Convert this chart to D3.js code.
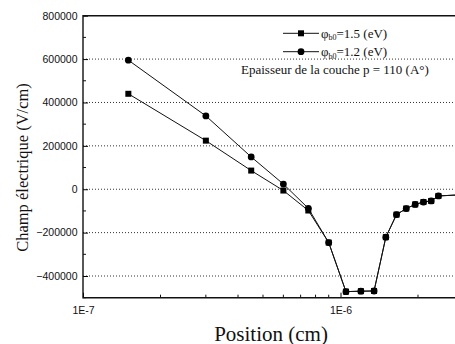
<!DOCTYPE html>
<html>
<head>
<meta charset="utf-8">
<script src="https://cdn.jsdelivr.net/npm/d3@7"></script>
<style>
  html, body { margin: 0; padding: 0; background: #fff; }
  svg { display: block; }
  .serif { font-family: "Liberation Serif", "Times New Roman", Times, "DejaVu Serif", serif; }
  .sans { font-family: "Liberation Sans", Arial, Helvetica, "DejaVu Sans", sans-serif; }
</style>
</head>
<body>
<svg id="chart" width="455" height="344"></svg>
<script>
// Position (cm) of each computed point
const positions = [1.5e-7, 3e-7, 4.5e-7, 6e-7, 7.5e-7, 9e-7, 1.05e-6, 1.2e-6, 1.35e-6,
  1.5e-6, 1.65e-6, 1.8e-6, 1.95e-6, 2.1e-6, 2.25e-6, 2.4e-6, 3e-6];
// Electric field (V/cm), barrier height 1.5 eV
const fieldPhi15 = [440000, 224000, 86000, -6000, -98000, -246000, -472000, -470000, -469000,
  -221000, -117000, -89000, -70000, -59000, -54000, -31000, -25000];
// Electric field (V/cm), barrier height 1.2 eV
const fieldPhi12 = [595000, 338000, 149000, 24000, -88000, -246000, -472000, -470000, -469000,
  -221000, -117000, -89000, -70000, -59000, -54000, -31000, -25000];

const yTicks = [-400000, -200000, 0, 200000, 400000, 600000, 800000];
const yMinorTicks = [-500000, -300000, -100000, 100000, 300000, 500000, 700000];
const xTicks = [1e-7, 1e-6];
const xTickLabels = ["1E-7", "1E-6"];
const xMinorTicks = [2e-7, 3e-7, 4e-7, 5e-7, 6e-7, 7e-7, 8e-7, 9e-7, 2e-6, 3e-6];

const svg = d3.select("#chart");
const plotLeft = 83, plotTop = 15.7, plotBottom = 297.7;
const decade = 257.5;

const x = d3.scaleLog().domain([1e-7, 3e-6]).range([plotLeft, plotLeft + decade * Math.log10(30)]);
const y = d3.scaleLinear().domain([-500000, 800000]).range([plotBottom, plotTop]);

// dotted horizontal grid
svg.append("g").selectAll("line")
  .data(yTicks.filter(d => d !== 800000))
  .join("line")
  .attr("x1", plotLeft).attr("x2", 455)
  .attr("y1", d => y(d)).attr("y2", d => y(d))
  .attr("stroke", "#333").attr("stroke-width", 1)
  .attr("stroke-dasharray", "1,2");

// axes
const yAxis = d3.axisLeft(y).tickValues(yTicks).tickSize(-5).tickPadding(5.5)
  .tickFormat(d3.format("d"));
const gy = svg.append("g").attr("transform", `translate(${plotLeft},0)`).call(yAxis);
gy.attr("font-family", null).attr("font-size", null);
gy.selectAll("text").attr("class", "sans").attr("font-size", 10.5).attr("fill", "#111");
gy.select(".domain").remove();
svg.append("g").selectAll("line").data(yMinorTicks).join("line")
  .attr("x1", plotLeft).attr("x2", plotLeft + 3)
  .attr("y1", d => y(d)).attr("y2", d => y(d))
  .attr("stroke", "#111");

const xAxis = d3.axisBottom(x).tickValues(xTicks).tickSize(-5).tickPadding(9)
  .tickFormat((d, i) => xTickLabels[i]);
const gx = svg.append("g").attr("transform", `translate(0,${plotBottom})`).call(xAxis);
gx.attr("font-family", null).attr("font-size", null);
gx.selectAll("text").attr("class", "sans").attr("font-size", 10.5).attr("fill", "#111");
gx.select(".domain").remove();
svg.append("g").selectAll("line").data(xMinorTicks).join("line")
  .attr("x1", d => x(d)).attr("x2", d => x(d))
  .attr("y1", plotBottom).attr("y2", plotBottom - 3)
  .attr("stroke", "#111");

// frame: left, bottom and top edges
svg.append("path")
  .attr("d", `M455,${plotTop}H${plotLeft}V${plotBottom}H455`)
  .attr("fill", "none").attr("stroke", "#111").attr("stroke-width", 1.4);

// series
const line = d3.line().x(d => x(d[0])).y(d => y(d[1]));
const sq = positions.map((p, i) => [p, fieldPhi15[i]]);
const ci = positions.map((p, i) => [p, fieldPhi12[i]]);

const plot = svg.append("g");
plot.append("path").datum(sq).attr("d", line)
  .attr("fill", "none").attr("stroke", "#111").attr("stroke-width", 1);
plot.append("path").datum(ci).attr("d", line)
  .attr("fill", "none").attr("stroke", "#111").attr("stroke-width", 1);
plot.append("g").selectAll("rect").data(sq).join("rect")
  .attr("x", d => x(d[0]) - 3).attr("y", d => y(d[1]) - 3)
  .attr("width", 6).attr("height", 6).attr("fill", "#000");
plot.append("g").selectAll("circle").data(ci).join("circle")
  .attr("cx", d => x(d[0])).attr("cy", d => y(d[1])).attr("r", 3.4).attr("fill", "#000");

// legend
const leg = svg.append("g");
const legendRows = [{ y: 33.3, shape: "square", val: "1.5" }, { y: 51.7, shape: "circle", val: "1.2" }];
legendRows.forEach(r => {
  leg.append("line").attr("x1", 283).attr("x2", 319).attr("y1", r.y).attr("y2", r.y)
    .attr("stroke", "#111").attr("stroke-width", 1);
  if (r.shape === "square") {
    leg.append("rect").attr("x", 298).attr("y", r.y - 3).attr("width", 6).attr("height", 6).attr("fill", "#000");
  } else {
    leg.append("circle").attr("cx", 301).attr("cy", r.y).attr("r", 3.4).attr("fill", "#000");
  }
  const t = leg.append("text").attr("class", "serif").attr("x", 321).attr("y", r.y + 4.5)
    .attr("font-size", 13).attr("fill", "#111");
  t.append("tspan").text("\u03c6");
  t.append("tspan").attr("font-size", 8).attr("dy", 2.5).text("b0");
  t.append("tspan").attr("dy", -2.5).text(`=${r.val} (eV)`);
});
leg.append("text").attr("class", "serif").attr("x", 241).attr("y", 74)
  .attr("font-size", 13).attr("fill", "#111")
  .text("Epaisseur de la couche p = 110 (A\u00b0)");

// axis titles
svg.append("text").attr("class", "serif").attr("x", 271).attr("y", 340.5).attr("text-anchor", "middle")
  .attr("font-size", 21).attr("fill", "#111")
  .text("Position (cm)");
svg.append("text").attr("class", "serif").attr("transform", "translate(27.5,167.5) rotate(-90)")
  .attr("text-anchor", "middle")
  .attr("font-size", 16.5).attr("fill", "#111")
  .text("Champ électrique (V/cm)");
</script>
</body>
</html>
